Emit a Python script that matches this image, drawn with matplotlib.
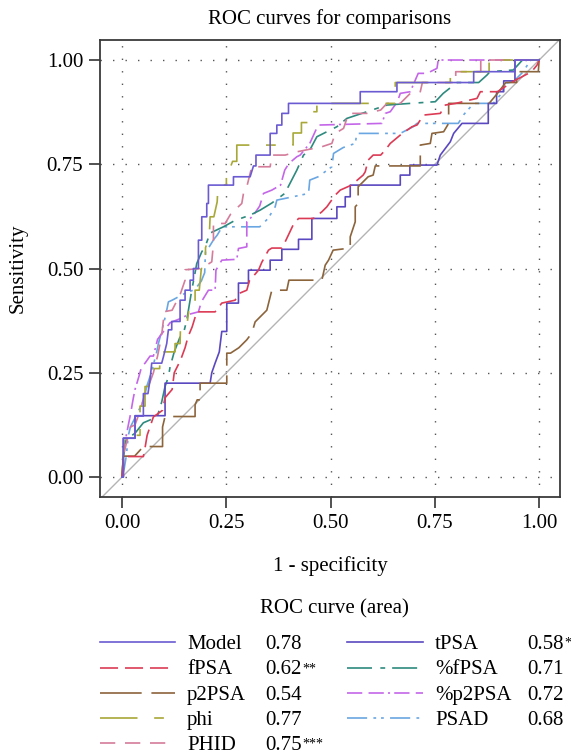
import numpy as np
import matplotlib
matplotlib.use('Agg')
from matplotlib import pyplot as plt

plt.rcParams['font.family'] = ['Liberation Serif', 'DejaVu Serif']
plt.rcParams['lines.scale_dashes'] = False

## ROC curve vertices (1 - specificity, sensitivity)
model_pts = [(0, 0), (0.003, 0), (0.003, 0.093), (0.031, 0.093), (0.031, 0.146), (0.051, 0.146),
             (0.051, 0.20), (0.062, 0.20), (0.067, 0.233), (0.071, 0.273), (0.095, 0.273), (0.099, 0.288),
             (0.107, 0.32), (0.111, 0.353), (0.119, 0.353), (0.119, 0.373), (0.139, 0.373), (0.139, 0.424),
             (0.151, 0.424), (0.151, 0.448), (0.163, 0.448), (0.163, 0.472), (0.171, 0.472), (0.171, 0.50),
             (0.183, 0.50), (0.183, 0.568), (0.191, 0.568), (0.191, 0.624), (0.203, 0.624), (0.203, 0.656),
             (0.207, 0.656), (0.207, 0.70), (0.267, 0.70), (0.267, 0.72), (0.307, 0.72), (0.315, 0.746),
             (0.321, 0.746), (0.321, 0.772), (0.355, 0.772), (0.355, 0.824), (0.371, 0.824), (0.371, 0.844),
             (0.383, 0.844), (0.383, 0.872), (0.399, 0.872), (0.399, 0.896), (0.571, 0.896), (0.571, 0.924),
             (0.659, 0.924), (0.659, 0.946), (0.843, 0.946), (0.843, 0.972), (0.942, 0.972), (0.942, 1.0),
             (1, 1)]

fpsa_pts = [(0, 0), (0.003, 0.03), (0.003, 0.049), (0.051, 0.049), (0.055, 0.07), (0.06, 0.10),
            (0.075, 0.144), (0.097, 0.16), (0.103, 0.19), (0.12, 0.21), (0.125, 0.25), (0.14, 0.28),
            (0.151, 0.31), (0.158, 0.336), (0.168, 0.36), (0.179, 0.396), (0.223, 0.396), (0.239, 0.417),
            (0.271, 0.424), (0.28, 0.44), (0.299, 0.448), (0.305, 0.47), (0.327, 0.496), (0.335, 0.515),
            (0.351, 0.544), (0.359, 0.549), (0.383, 0.549), (0.391, 0.564), (0.41, 0.604), (0.423, 0.62),
            (0.459, 0.62), (0.479, 0.636), (0.491, 0.648), (0.511, 0.676), (0.523, 0.688), (0.55, 0.70),
            (0.578, 0.724), (0.583, 0.732), (0.59, 0.76), (0.602, 0.772), (0.62, 0.772), (0.631, 0.784),
            (0.643, 0.80), (0.667, 0.82), (0.695, 0.84), (0.707, 0.844), (0.723, 0.868), (0.763, 0.872),
            (0.775, 0.892), (0.80, 0.896), (0.851, 0.908), (0.859, 0.924), (0.90, 0.924), (0.94, 0.95),
            (0.982, 0.972), (0.995, 0.988), (1, 1)]

p2psa_pts = [(0, 0), (0.003, 0.05), (0.03, 0.05), (0.051, 0.073), (0.097, 0.073), (0.097, 0.12),
             (0.103, 0.145), (0.175, 0.145), (0.175, 0.173), (0.18, 0.185), (0.187, 0.185), (0.187, 0.225),
             (0.251, 0.225), (0.251, 0.297), (0.26, 0.297), (0.28, 0.31), (0.299, 0.329), (0.311, 0.345),
             (0.319, 0.372), (0.331, 0.384), (0.347, 0.40), (0.359, 0.448), (0.395, 0.448), (0.40, 0.472),
             (0.479, 0.472), (0.487, 0.508), (0.495, 0.52), (0.506, 0.544), (0.547, 0.549), (0.547, 0.576),
             (0.555, 0.60), (0.559, 0.612), (0.559, 0.648), (0.566, 0.656), (0.566, 0.696), (0.59, 0.72),
             (0.602, 0.724), (0.607, 0.746), (0.715, 0.746), (0.715, 0.796), (0.739, 0.80), (0.743, 0.824),
             (0.771, 0.828), (0.783, 0.848), (0.783, 0.896), (0.88, 0.896), (0.90, 0.92), (0.92, 0.946),
             (0.946, 0.946), (0.946, 0.972), (0.998, 0.972), (1, 1)]

phi_pts = [(0, 0), (0.003, 0.06), (0.005, 0.10), (0.043, 0.10), (0.043, 0.17), (0.055, 0.17),
           (0.055, 0.217), (0.063, 0.217), (0.07, 0.26), (0.09, 0.26), (0.091, 0.30), (0.127, 0.30),
           (0.127, 0.32), (0.139, 0.32), (0.14, 0.36), (0.155, 0.36), (0.16, 0.40), (0.175, 0.40),
           (0.175, 0.448), (0.185, 0.448), (0.19, 0.50), (0.20, 0.50), (0.20, 0.55), (0.209, 0.576),
           (0.211, 0.624), (0.22, 0.624), (0.228, 0.66), (0.23, 0.70), (0.25, 0.70), (0.25, 0.744),
           (0.26, 0.744), (0.265, 0.757), (0.275, 0.757), (0.275, 0.796), (0.41, 0.796), (0.41, 0.825),
           (0.43, 0.825), (0.43, 0.85), (0.447, 0.85), (0.447, 0.876), (0.467, 0.876), (0.467, 0.896),
           (0.655, 0.896), (0.655, 0.946), (0.787, 0.946), (0.787, 0.972), (0.88, 0.972), (0.88, 1.0),
           (1, 1)]

phid_pts = [(0, 0), (0.003, 0.05), (0.01, 0.08), (0.02, 0.12), (0.031, 0.125), (0.04, 0.15),
            (0.055, 0.20), (0.063, 0.217), (0.075, 0.25), (0.085, 0.29), (0.091, 0.32), (0.096, 0.35),
            (0.099, 0.376), (0.099, 0.396), (0.12, 0.40), (0.13, 0.42), (0.14, 0.44), (0.151, 0.472),
            (0.151, 0.497), (0.19, 0.50), (0.215, 0.516), (0.219, 0.56), (0.219, 0.608), (0.247, 0.608),
            (0.26, 0.63), (0.27, 0.64), (0.287, 0.656), (0.291, 0.68), (0.30, 0.70), (0.311, 0.744),
            (0.355, 0.744), (0.359, 0.772), (0.391, 0.772), (0.42, 0.78), (0.479, 0.792), (0.503, 0.80),
            (0.511, 0.824), (0.531, 0.836), (0.543, 0.872), (0.587, 0.872), (0.62, 0.88), (0.635, 0.896),
            (0.667, 0.896), (0.691, 0.92), (0.715, 0.924), (0.72, 0.946), (0.80, 0.946), (0.80, 0.972),
            (0.86, 0.972), (0.86, 1.0), (1, 1)]

tpsa_pts = [(0, 0), (0.003, 0), (0.003, 0.093), (0.031, 0.093), (0.031, 0.147), (0.103, 0.147),
            (0.103, 0.225), (0.211, 0.225), (0.215, 0.25), (0.223, 0.273), (0.233, 0.30), (0.239, 0.349),
            (0.251, 0.349), (0.251, 0.417), (0.279, 0.417), (0.279, 0.465), (0.303, 0.465), (0.303, 0.496),
            (0.355, 0.496), (0.355, 0.52), (0.383, 0.52), (0.383, 0.546), (0.423, 0.546), (0.423, 0.57),
            (0.455, 0.57), (0.455, 0.62), (0.515, 0.62), (0.515, 0.648), (0.535, 0.648), (0.535, 0.672),
            (0.547, 0.672), (0.547, 0.70), (0.667, 0.70), (0.667, 0.724), (0.69, 0.724), (0.69, 0.748),
            (0.755, 0.748), (0.763, 0.772), (0.787, 0.804), (0.795, 0.824), (0.815, 0.848), (0.878, 0.848),
            (0.878, 0.896), (0.898, 0.896), (0.898, 0.924), (0.915, 0.924), (0.915, 0.95), (0.942, 0.95),
            (0.942, 1.0), (1, 1)]

pfpsa_pts = [(0, 0), (0.003, 0.05), (0.01, 0.09), (0.031, 0.105), (0.051, 0.13), (0.084, 0.144),
             (0.095, 0.18), (0.103, 0.217), (0.111, 0.24), (0.115, 0.264), (0.125, 0.30), (0.139, 0.336),
             (0.147, 0.344), (0.155, 0.376), (0.159, 0.40), (0.167, 0.448), (0.175, 0.49), (0.179, 0.512),
             (0.191, 0.54), (0.199, 0.552), (0.211, 0.585), (0.243, 0.60), (0.27, 0.615), (0.307, 0.628),
             (0.331, 0.64), (0.359, 0.657), (0.39, 0.68), (0.403, 0.705), (0.419, 0.736), (0.435, 0.772),
             (0.45, 0.784), (0.467, 0.816), (0.515, 0.84), (0.539, 0.86), (0.635, 0.892), (0.691, 0.896),
             (0.751, 0.90), (0.77, 0.92), (0.803, 0.946), (0.855, 0.946), (0.875, 0.964), (0.882, 0.972),
             (0.938, 0.976), (0.96, 1.0), (1, 1)]

pp2psa_pts = [(0, 0), (0.003, 0.05), (0.01, 0.10), (0.02, 0.15), (0.027, 0.19), (0.031, 0.21),
              (0.04, 0.24), (0.047, 0.265), (0.055, 0.273), (0.067, 0.29), (0.075, 0.29), (0.085, 0.33),
              (0.10, 0.35), (0.115, 0.37), (0.14, 0.38), (0.16, 0.39), (0.183, 0.396), (0.19, 0.42),
              (0.207, 0.448), (0.223, 0.448), (0.225, 0.496), (0.239, 0.52), (0.275, 0.522), (0.279, 0.548),
              (0.299, 0.552), (0.299, 0.612), (0.315, 0.628), (0.33, 0.65), (0.339, 0.68), (0.359, 0.688),
              (0.38, 0.70), (0.39, 0.736), (0.40, 0.752), (0.419, 0.768), (0.427, 0.772), (0.45, 0.80),
              (0.47, 0.844), (0.623, 0.848), (0.631, 0.872), (0.643, 0.876), (0.66, 0.90), (0.667, 0.92),
              (0.691, 0.924), (0.71, 0.968), (0.731, 0.968), (0.755, 0.98), (0.758, 1.0), (1, 1)]

psad_pts = [(0, 0), (0.005, 0.02), (0.01, 0.05), (0.015, 0.10), (0.02, 0.12), (0.035, 0.15),
            (0.05, 0.18), (0.06, 0.22), (0.07, 0.25), (0.083, 0.30), (0.087, 0.32), (0.095, 0.35),
            (0.105, 0.39), (0.111, 0.42), (0.12, 0.424), (0.15, 0.44), (0.175, 0.45), (0.19, 0.47),
            (0.198, 0.49), (0.20, 0.544), (0.207, 0.549), (0.22, 0.57), (0.228, 0.58), (0.24, 0.60),
            (0.33, 0.60), (0.35, 0.62), (0.367, 0.648), (0.371, 0.664), (0.40, 0.67), (0.447, 0.68),
            (0.45, 0.712), (0.47, 0.72), (0.503, 0.744), (0.507, 0.776), (0.53, 0.79), (0.559, 0.80),
            (0.563, 0.824), (0.667, 0.824), (0.698, 0.84), (0.707, 0.848), (0.806, 0.848), (0.82, 0.87),
            (0.843, 0.896), (0.89, 0.896), (0.91, 0.92), (0.918, 0.944), (0.938, 0.948), (0.96, 0.97),
            (0.98, 1.0), (1, 1)]

names = ['Model', 'fPSA', 'p2PSA', 'phi', 'PHID', 'tPSA', '%fPSA', '%p2PSA', 'PSAD']
areas = ['0.78', '0.62', '0.54', '0.77', '0.75', '0.58', '0.71', '0.72', '0.68']
stars = ['', '**', '', '', '***', '*', '', '', '']
curves = [model_pts, fpsa_pts, p2psa_pts, phi_pts, phid_pts, tpsa_pts, pfpsa_pts, pp2psa_pts, psad_pts]

colors = ['#6b5bd2', '#dc3b55', '#8c643c', '#a8a838', '#d47c9a',
          '#5a48c0', '#2e8a7e', '#c466e8', '#6aa6e2']
styles = ['-', (0, (13, 5)), (0, (30, 7)), (0, (27, 12, 7, 12)), (0, (11, 7)),
          '-', (0, (18, 6, 3.5, 5)), (0, (11, 4.5, 11, 3, 1.5, 3)), (0, (14.5, 4.5, 2, 3.5, 2, 4.5))]

W, H = 571, 754
fig = plt.figure(figsize=(W / 100, H / 100), dpi=100)
ax = fig.add_axes([100 / W, 1 - 497 / H, 460 / W, 457 / H])

ax.plot([-0.1, 1.1], [-0.1, 1.1], color='#b4b4b4', lw=1.0, zorder=1)
for i in reversed(range(len(curves))):
    pts = np.array(curves[i]).T
    ax.plot(pts[0], pts[1], color=colors[i], linestyle=styles[i], lw=1.2, zorder=2 + (len(curves) - i))

ticks = [0, 0.25, 0.5, 0.75, 1.0]
ax.set_xlim(-0.053, 1.05)
ax.set_ylim(-0.048, 1.048)
ax.set_xticks(ticks)
ax.set_yticks(ticks)
ax.set_xticklabels(['%.2f' % t for t in ticks])
ax.set_yticklabels(['%.2f' % t for t in ticks])
ax.grid(True, linestyle=(0, (1, 8)), color='#555555', linewidth=1.0)
ax.set_axisbelow(True)
ax.tick_params(direction='out', length=8, width=1.2, color='#333333', labelsize=15, pad=4)
for s in ax.spines.values():
    s.set_color('#3a3a3a')
    s.set_linewidth(1.3)

fig.text(330 / W, 1 - 24 / H, 'ROC curves for comparisons', fontsize=15, ha='center', va='baseline')
fig.text(18 / W, 1 - 268 / H, 'Sensitivity', fontsize=15, rotation=90, ha='center', va='center')
fig.text(330 / W, 1 - 571 / H, '1 - specificity', fontsize=15, ha='center', va='baseline')

# legend block drawn in pixel coordinates
lg = fig.add_axes([0, 0, 1, 1], facecolor='none')
lg.set_xlim(0, W)
lg.set_ylim(H, 0)
lg.axis('off')
lg.text(334, 613, 'ROC curve (area)', fontsize=15, ha='center', va='baseline')

row_y = [642, 667.5, 693, 718, 743]
col_line = [(100, 175), (347, 423)]
col_name = [187, 435]
col_val = [265, 527]
star_txt = []
for i, nm in enumerate(names):
    c = 0 if i < 5 else 1
    y = row_y[i if i < 5 else i - 5]
    lg.plot(col_line[c], [y, y], color=colors[i], linestyle=styles[i], lw=1.2)
    lg.text(col_name[c], y + 7, nm, fontsize=15, ha='left', va='baseline')
    t = lg.text(col_val[c], y + 7, areas[i], fontsize=15, ha='left', va='baseline')
    if stars[i]:
        star_txt.append((t, stars[i]))

fig.canvas.draw()
inv = lg.transData.inverted()
for t, s in star_txt:
    bb = t.get_window_extent()
    x1, _ = inv.transform((bb.x1, bb.y0))
    _, yb = t.get_position()
    lg.text(x1 + 1, yb - 2, s, fontsize=10, ha='left', va='baseline')

fig.savefig('out.png', dpi=100)
